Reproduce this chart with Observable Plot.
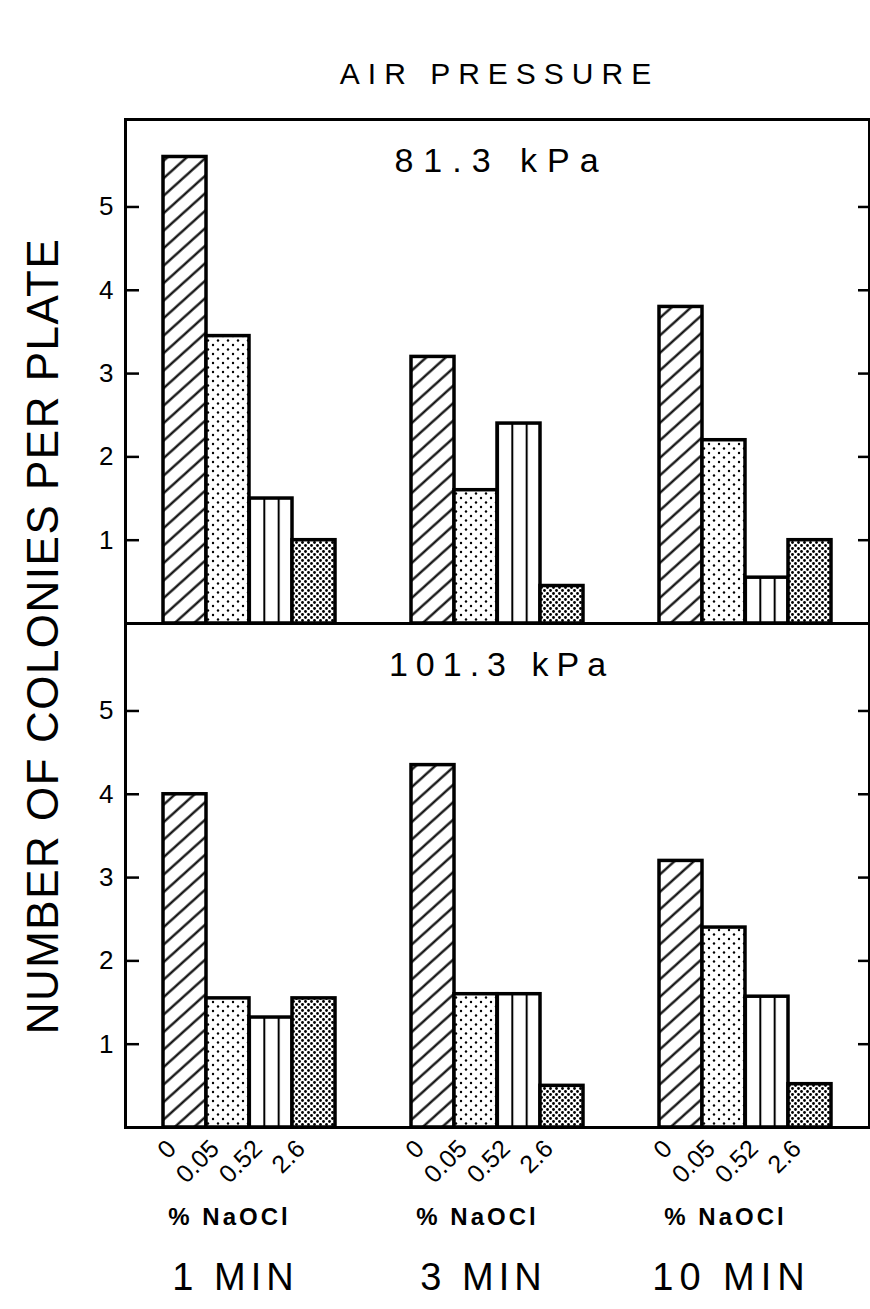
<!DOCTYPE html>
<html><head><meta charset="utf-8">
<script src="https://cdn.jsdelivr.net/npm/d3@7"></script>
<script src="https://cdn.jsdelivr.net/npm/@observablehq/plot@0.6"></script>
<style>
body{margin:0;background:#fff;}
#chart{width:870px;height:1309px;}
</style></head><body><div id="chart"></div>
<script>
const durations = ["1 MIN", "3 MIN", "10 MIN"];
const concentrations = ["0", "0.05", "0.52", "2.6"];
const pressures = ["81.3 kPa", "101.3 kPa"];
const yTicks = [1, 2, 3, 4, 5];
// colonies per plate, in concentration order (0, 0.05, 0.52, 2.6 % NaOCl)
const kPa81_1min = [5.6, 3.45, 1.5, 1.0];
const kPa81_3min = [3.2, 1.6, 2.4, 0.45];
const kPa81_10min = [3.8, 2.2, 0.55, 1.0];
const kPa101_1min = [4.0, 1.55, 1.32, 1.55];
const kPa101_3min = [4.35, 1.6, 1.6, 0.5];
const kPa101_10min = [3.2, 2.4, 1.57, 0.52];

const series = [
  ["81.3 kPa", "1 MIN", kPa81_1min], ["81.3 kPa", "3 MIN", kPa81_3min], ["81.3 kPa", "10 MIN", kPa81_10min],
  ["101.3 kPa", "1 MIN", kPa101_1min], ["101.3 kPa", "3 MIN", kPa101_3min], ["101.3 kPa", "10 MIN", kPa101_10min]
];
const table = series.flatMap(([pressure, duration, vals]) =>
  vals.map((value, i) => ({pressure, duration, conc: concentrations[i], value})));

const fills = {"0": "url(#hatch)", "0.05": "url(#dots)", "0.52": "url(#vlines)", "2.6": "url(#densedots)"};
const font = "'Liberation Sans', Arial, Helvetica, sans-serif";

const chart = Plot.plot({
  width: 870, height: 1309,
  marginTop: 118, marginBottom: 182, marginLeft: 124, marginRight: 1,
  style: {fontFamily: font, color: "black", background: "white"},
  fx: {domain: durations, padding: 0, axis: null},
  fy: {domain: pressures, padding: 0, axis: null},
  x: {domain: concentrations, paddingInner: 0, paddingOuter: 0.88, axis: null},
  y: {domain: [0, 6.05], axis: null},
  marks: [
    Plot.barY(table, {fx: "duration", fy: "pressure", x: "conc", y: "value",
      fill: d => fills[d.conc], stroke: "black", strokeWidth: 3.5}),
    Plot.ruleY([0], {strokeWidth: 3}),
    Plot.frame({anchor: "top", facetAnchor: "top", strokeWidth: 3}),
    Plot.frame({anchor: "left", facetAnchor: "left", strokeWidth: 3}),
    Plot.frame({anchor: "right", facetAnchor: "right", strokeWidth: 3}),
    Plot.axisY({anchor: "left", ticks: yTicks, tickSize: -14, tickPadding: 26, tickFormat: d => String(d),
      fontSize: 26, strokeWidth: 2.5, label: null}),
    Plot.axisY({anchor: "right", ticks: yTicks, tickSize: -12, tickFormat: () => "",
      strokeWidth: 2.5, label: null}),
    Plot.axisX({anchor: "bottom", tickSize: 0, tickPadding: 17, rotate: -45, textAnchor: "end",
      lineAnchor: "middle", fontSize: 25, dx: -13, label: null}),
    Plot.text(pressures, {fy: d => d, fx: () => "3 MIN", text: d => d, frameAnchor: "top",
      lineAnchor: "middle", dy: 42, dx: 4, fontSize: 34}),
    Plot.text(["AIR PRESSURE"], {fx: () => "3 MIN", fy: () => "81.3 kPa", text: d => d,
      frameAnchor: "top", lineAnchor: "middle", dy: -45, dx: 2, fontSize: 30}),
    Plot.text(durations, {fx: d => d, fy: () => "101.3 kPa", text: () => "% NaOCl",
      frameAnchor: "bottom", lineAnchor: "middle", dx: -20, dy: 90, fontSize: 24, fontWeight: "bold"}),
    Plot.text(durations, {fx: d => d, fy: () => "101.3 kPa", text: d => d,
      frameAnchor: "bottom", lineAnchor: "middle", dx: -14, dy: 150, fontSize: 38})
  ]
});

document.getElementById("chart").appendChild(chart);

const svg = d3.select(chart);
const defs = svg.insert("defs", ":first-child");
const h = defs.append("pattern").attr("id", "hatch").attr("patternUnits", "userSpaceOnUse")
  .attr("width", 13).attr("height", 13).attr("patternTransform", "rotate(-42)");
h.append("rect").attr("width", 13).attr("height", 13).attr("fill", "white");
h.append("line").attr("x1", -1).attr("x2", 14).attr("y1", 6.5).attr("y2", 6.5)
  .attr("stroke", "black").attr("stroke-width", 2.2);

const dt = defs.append("pattern").attr("id", "dots").attr("patternUnits", "userSpaceOnUse")
  .attr("width", 10).attr("height", 9);
dt.append("rect").attr("width", 10).attr("height", 9).attr("fill", "white");
[[2, 2], [7, 6.5]].forEach(([cx, cy]) => dt.append("circle").attr("cx", cx).attr("cy", cy).attr("r", 1.2).attr("fill", "black"));

const dd = defs.append("pattern").attr("id", "densedots").attr("patternUnits", "userSpaceOnUse")
  .attr("width", 6).attr("height", 6);
dd.append("rect").attr("width", 6).attr("height", 6).attr("fill", "white");
[[1.5, 1.5], [4.5, 4.5]].forEach(([cx, cy]) => dd.append("circle").attr("cx", cx).attr("cy", cy).attr("r", 1.4).attr("fill", "black"));

const vl = defs.append("pattern").attr("id", "vlines").attr("patternUnits", "objectBoundingBox")
  .attr("width", 1 / 3).attr("height", 1);
vl.append("rect").attr("width", 200).attr("height", 3000).attr("fill", "white");
vl.append("line").attr("x1", 0).attr("x2", 0).attr("y1", 0).attr("y2", 3000)
  .attr("stroke", "black").attr("stroke-width", 4);

const spacing = {"81.3 kPa": 10, "101.3 kPa": 8, "AIR PRESSURE": 8, "% NaOCl": 3,
  "1 MIN": 5, "3 MIN": 5, "10 MIN": 6};
svg.selectAll("text").each(function () {
  const t = this.textContent;
  const s = spacing[t];
  if (s) this.setAttribute("letter-spacing", s);
});

svg.append("text")
  .attr("transform", "translate(42,636) rotate(-90)")
  .attr("text-anchor", "middle").attr("dominant-baseline", "central")
  .attr("font-family", font).attr("font-size", 44).attr("letter-spacing", 1.5)
  .text("NUMBER OF COLONIES PER PLATE");
</script></body></html>
